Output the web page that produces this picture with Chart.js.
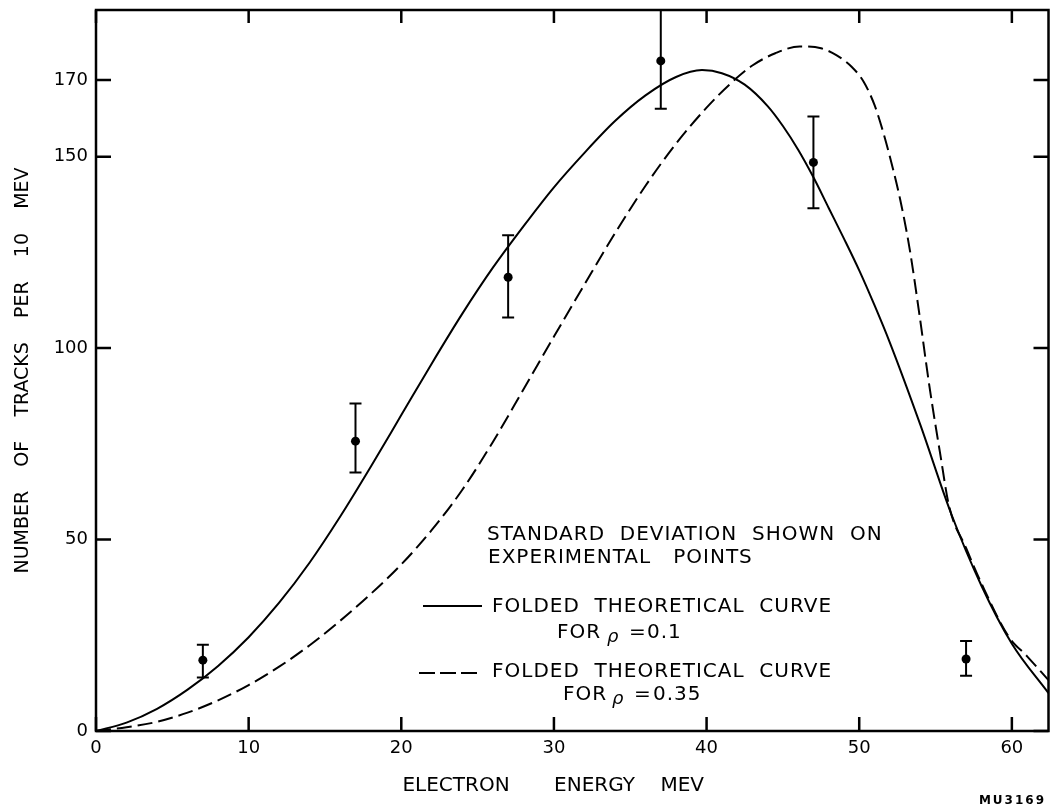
<!DOCTYPE html>
<html>
<head>
<meta charset="utf-8">
<title>Electron energy spectrum</title>
<script src="https://cdn.jsdelivr.net/npm/chart.js@4.4.1/dist/chart.umd.min.js"></script>
<style>
    html, body { margin: 0; padding: 0; background: #fff; }
    #wrap { width: 1053px; height: 809px; position: relative; }
</style>
</head>
<body>
<div id="wrap"><canvas id="chart"></canvas></div>
<script>
// 实验点（每 10 MeV 的径迹数）及标准偏差
const expEnergy = [7, 17, 27, 37, 47, 57];
const expTracks = [18.5, 75.7, 118.5, 175, 148.5, 18.8];
const expLow = [14, 67.5, 108, 162.5, 136.5, 14.4];
const expHigh = [22.5, 85.5, 129.5, 192, 160.5, 23.5];

// 折叠理论曲线 rho = 0.1（实线）
const curve1Energy = [0, 2, 4, 6, 8, 10, 12, 14, 16, 18, 20, 22, 24, 26, 28, 30, 32, 34, 36, 38, 39.7, 41, 42.5, 44, 45, 46, 47, 48, 49, 50, 51, 52, 54, 56, 58, 60, 62.4];
const curve1Tracks = [0, 2.2, 5.8, 10.8, 17, 24.5, 33.5, 44, 56, 69, 82.5, 96, 109, 121, 131.8, 142, 151, 159.3, 166, 170.8, 172.6, 171.8, 168.8, 163.2, 158, 151.8, 144.6, 136.6, 128.6, 120.3, 111.2, 101.5, 80, 57, 38, 22.8, 9.9];

// 折叠理论曲线 rho = 0.35（虚线）
const curve2Energy = [0, 2, 4, 6, 8, 10, 12, 14, 16, 18, 20, 22, 24, 26, 28, 30, 32, 34, 36, 38, 40, 41.6, 43, 44.5, 46.1, 47.5, 48.5, 49.5, 50.3, 51, 51.6, 52.2, 52.7, 53.3, 53.9, 54.6, 55.3, 55.9, 57, 58, 59.8, 61, 62.4];
const curve2Tracks = [0, 1, 2.4, 4.8, 8, 12, 16.8, 22.4, 28.8, 35.8, 43.5, 52.5, 63, 75.5, 89.2, 103, 116.6, 130, 142.4, 153.4, 162.8, 169.2, 173.8, 177, 178.8, 178.3, 176.5, 173.5, 169.5, 163.5, 156, 147, 138.5, 126, 110, 90, 72.5, 58.5, 47.8, 38.6, 24.6, 19.5, 13.3];

// 刻度
const xTicks = [0, 10, 20, 30, 40, 50, 60];
const yTicks = [0, 50, 100, 150, 170];

const FONT = '"DejaVu Sans", "Liberation Sans", sans-serif';

function toPoints(xs, ys) {
    return xs.map((x, i) => ({ x: x, y: ys[i] }));
}

// 画框、内向刻度、误差棒和图中说明文字
const decorPlugin = {
    id: 'decor',
    beforeDatasetsDraw(chart) {
        const { ctx, chartArea, scales } = chart;
        ctx.save();
        ctx.beginPath();
        ctx.rect(chartArea.left, chartArea.top, chartArea.right - chartArea.left, chartArea.bottom - chartArea.top);
        ctx.clip();
        ctx.strokeStyle = '#000';
        ctx.lineWidth = 2;
        expEnergy.forEach((e, i) => {
            const x = scales.x.getPixelForValue(e);
            const yLo = scales.y.getPixelForValue(expLow[i]);
            const yHi = scales.y.getPixelForValue(expHigh[i]);
            ctx.beginPath();
            ctx.moveTo(x, yLo);
            ctx.lineTo(x, yHi);
            ctx.moveTo(x - 6, yLo);
            ctx.lineTo(x + 6, yLo);
            ctx.moveTo(x - 6, yHi);
            ctx.lineTo(x + 6, yHi);
            ctx.stroke();
        });
        ctx.restore();
    },
    afterDraw(chart) {
        const { ctx, chartArea, scales } = chart;
        const { left, right, top, bottom } = chartArea;
        ctx.save();
        ctx.strokeStyle = '#000';

        // 内向刻度
        ctx.lineWidth = 2.5;
        ctx.beginPath();
        xTicks.forEach(v => {
            const x = scales.x.getPixelForValue(v);
            ctx.moveTo(x, bottom);
            ctx.lineTo(x, bottom - 14);
            ctx.moveTo(x, top);
            ctx.lineTo(x, top + 13);
        });
        yTicks.forEach(v => {
            const y = scales.y.getPixelForValue(v);
            ctx.moveTo(left, y);
            ctx.lineTo(left + 15, y);
            ctx.moveTo(right, y);
            ctx.lineTo(right - 15, y);
        });
        ctx.stroke();

        // 外框
        ctx.lineWidth = 2.5;
        ctx.strokeRect(left, top, right - left, bottom - top);

        // 说明文字
        ctx.fillStyle = '#000';
        ctx.textBaseline = 'middle';
        ctx.textAlign = 'left';
        ctx.font = '20px ' + FONT;
        ctx.letterSpacing = '1px';
        ctx.fillText('STANDARD  DEVIATION  SHOWN  ON', 487, 535);
        ctx.fillText('EXPERIMENTAL   POINTS', 488, 558);
        ctx.fillText('FOLDED  THEORETICAL  CURVE', 492, 607);
        ctx.fillText('FOLDED  THEORETICAL  CURVE', 492, 672);
        ctx.fillText('FOR', 557, 633);
        ctx.fillText('=', 629, 633);
        ctx.fillText('0.1', 647, 633);
        ctx.fillText('FOR', 563, 695);
        ctx.fillText('=', 634, 695);
        ctx.fillText('0.35', 653, 695);
        ctx.font = 'italic 18px ' + FONT;
        ctx.fillText('ρ', 607, 637);
        ctx.fillText('ρ', 612, 699);

        // 图例线段
        ctx.lineWidth = 2;
        ctx.beginPath();
        ctx.moveTo(423, 606);
        ctx.lineTo(482, 606);
        ctx.stroke();
        ctx.setLineDash([16, 5]);
        ctx.beginPath();
        ctx.moveTo(419, 673);
        ctx.lineTo(482, 673);
        ctx.stroke();
        ctx.setLineDash([]);

        // 编号
        ctx.font = 'bold 12px ' + FONT;
        ctx.letterSpacing = '2px';
        ctx.textAlign = 'right';
        ctx.fillText('MU3169', 1046, 801);
        ctx.restore();
    }
};

function noScalePadding(scale) {
    scale.paddingTop = 0;
    scale.paddingBottom = 0;
    scale.paddingLeft = 0;
    scale.paddingRight = 0;
}

const ctx = document.getElementById('chart').getContext('2d');
new Chart(ctx, {
    type: 'line',
    data: {
        datasets: [
            {
                label: 'rho = 0.1',
                data: toPoints(curve1Energy, curve1Tracks),
                borderColor: '#000',
                borderWidth: 2,
                pointRadius: 0,
                cubicInterpolationMode: 'monotone',
                fill: false
            },
            {
                label: 'rho = 0.35',
                data: toPoints(curve2Energy, curve2Tracks),
                borderColor: '#000',
                borderWidth: 2,
                borderDash: [15, 6],
                pointRadius: 0,
                cubicInterpolationMode: 'monotone',
                fill: false
            },
            {
                label: 'experimental',
                data: toPoints(expEnergy, expTracks),
                showLine: false,
                pointRadius: 4.5,
                pointBackgroundColor: '#000',
                pointBorderColor: '#000',
                borderWidth: 0
            }
        ]
    },
    options: {
        responsive: true,
        maintainAspectRatio: false,
        animation: false,
        layout: {
            padding: { left: 0, top: 10, right: 2, bottom: 0 }
        },
        plugins: {
            legend: { display: false },
            tooltip: { enabled: false }
        },
        scales: {
            x: {
                type: 'linear',
                min: 0,
                max: 62.4,
                afterBuildTicks: scale => { scale.ticks = xTicks.map(v => ({ value: v })); },
                afterFit: scale => { scale.height = 78; noScalePadding(scale); },
                grid: { display: false, drawTicks: false },
                border: { display: false },
                ticks: {
                    color: '#000',
                    padding: 7,
                    maxRotation: 0,
                    font: { family: FONT, size: 18 }
                },
                title: {
                    display: true,
                    text: 'ELECTRON       ENERGY    MEV      ',
                    color: '#000',
                    padding: { top: 0, bottom: 11 },
                    font: { family: FONT, size: 20 }
                }
            },
            y: {
                type: 'linear',
                min: 0,
                max: 188.3,
                afterBuildTicks: scale => { scale.ticks = yTicks.map(v => ({ value: v })); },
                afterFit: scale => { scale.width = 96; noScalePadding(scale); },
                grid: { display: false, drawTicks: false },
                border: { display: false },
                ticks: {
                    color: '#000',
                    padding: 8,
                    font: { family: FONT, size: 18 }
                },
                title: {
                    display: true,
                    text: 'NUMBER    OF    TRACKS    PER    10    MEV',
                    color: '#000',
                    padding: { top: 12, bottom: 0 },
                    font: { family: FONT, size: 19 }
                }
            }
        }
    },
    plugins: [decorPlugin]
});
</script>
</body>
</html>
